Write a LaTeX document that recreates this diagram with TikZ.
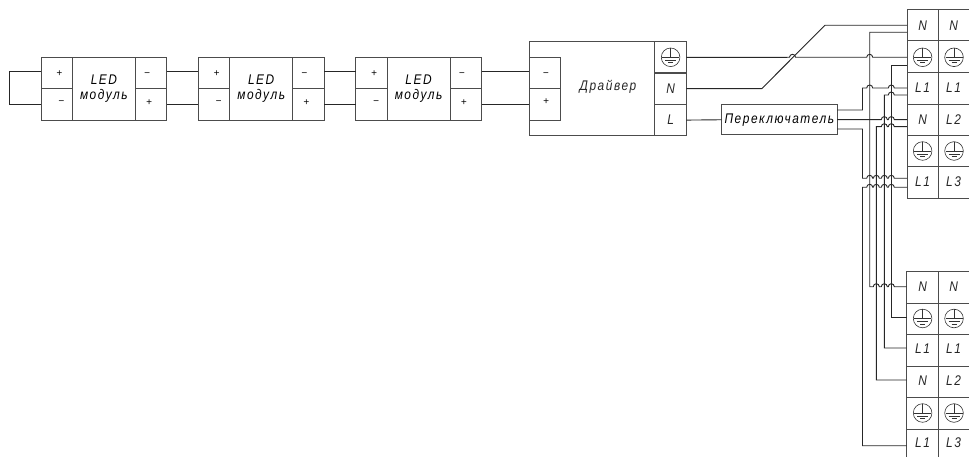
\documentclass[tikz,border=0pt]{standalone}
\usepackage{fontspec}
\usetikzlibrary{calc}
\setmainfont{Liberation Sans}
\newfontfamily\cadfont[LetterSpace=11,FakeStretch=0.85]{Liberation Sans}
\newcommand{\hop}[2]{-- ({#1-3},#2) arc[start angle=180,end angle=360,radius=3]}
\newcommand{\gnd}[2]{%
  \draw[sym] (#1,#2) circle[x radius=9.3,y radius=9.3];
  \draw[sym] (#1,#2-9.3) -- (#1,#2);
  \draw[sym] ({#1-8.5},#2) -- ({#1+8.5},#2);
  \draw[sym] ({#1-5.5},#2+3) -- ({#1+5.5},#2+3);
  \draw[sym] ({#1-2.5},#2+5.5) -- ({#1+2.5},#2+5.5);}
\tikzset{
  every node/.style={outer sep=0pt},
  wire/.style={line width=0.9pt,draw=black!85},
  frame/.style={line width=1pt,draw=black!70},
  sym/.style={line width=0.6pt,draw=black!80},
  cell/.style={draw=black!70,line width=1pt,minimum width=31.4pt,minimum height=31.4pt,inner sep=0pt},
  mid/.style={draw=black!70,line width=1pt,inner sep=0pt,align=center,font=\cadfont\itshape\fontsize{14}{15}\selectfont},
  sign/.style={inner sep=0pt,font=\itshape\fontsize{10}{10}\selectfont},
  lab/.style={inner sep=0pt,text=black!85,font=\cadfont\itshape\fontsize{14}{15}\selectfont},
}
\begin{document}
\begin{tikzpicture}[x=1pt,y=-1pt]
\useasboundingbox (0,0) rectangle (969,457);
\coordinate (wt) at (9.5,71.3);
\coordinate (wb) at (9.5,104);
% LED modules
\foreach \n/\x in {a/41,b/198.3,c/355.7}{
  \node[mid,minimum width=63pt,minimum height=62.8pt,anchor=north west] (\n m) at (\x+31.4,57.3) {LED\\модуль};
  \node[cell,anchor=north east] (\n tl) at (\n m.north west) {};
  \node[cell,anchor=south east] (\n bl) at (\n m.south west) {};
  \node[cell,anchor=north west] (\n tr) at (\n m.north east) {};
  \node[cell,anchor=south west] (\n br) at (\n m.south east) {};
  \node[sign] at ($(\n tl.center)+(2.6,0.3)$) {+};
  \node[sign] at ($(\n bl.center)+(4.6,-1.7)$) {−};
  \node[sign] at ($(\n tr.center)+(-4,1.3)$) {−};
  \node[sign] at ($(\n br.center)+(-2,-1.7)$) {+};
}
% Driver
\node[frame,draw,minimum width=157pt,minimum height=94.3pt,anchor=north west] (drv) at (529.3,41.7) {};
\node[lab] at (608,87) {Драйвер};
\node[cell,anchor=north west] (dm) at (529.3,57.3) {};
\node[cell,anchor=north west] (dp) at (529.3,88.7) {};
\node[sign] at ($(dm.center)+(0.7,1.3)$) {−};
\node[sign] at ($(dp.center)+(1,-2.4)$) {+};
\node[cell,anchor=north east] (dg) at (686.3,41.7) {};
\node[cell,anchor=north east] (dn) at (686.3,73) {};
\node[cell,anchor=north east] (dl) at (686.3,104.4) {};
\node[lab] at (dn) {N};
\node[lab] at (dl) {L};
\gnd{670.6}{57.3}
% Switch
\node[frame,draw,minimum width=115.3pt,minimum height=30.5pt,inner sep=0pt,anchor=north west,font=\cadfont\itshape\fontsize{14}{15}\selectfont] (sw) at (721.7,104.5) {Переключатель};
% Terminal blocks
\draw[frame] (969,9.6) -- (907,9.6) -- (907,198.3) -- (969,198.3);
\draw[frame] (938.3,9.6) -- (938.3,198.3);
\foreach \y in {41,72.7,104.3,135.7,166.7}{\draw[frame] (907,\y) -- (969,\y);}
\draw[frame] (969,271.7) -- (906.7,271.7) -- (906.7,457);
\draw[frame] (938.3,271.7) -- (938.3,457);
\foreach \y in {303,334.7,366,397.3,429.3}{\draw[frame] (906.7,\y) -- (969,\y);}
\foreach \name/\y/\a/\b in {ta/25.5/N/N,tc/88/L1/L1,td/120/N/L2,tf/182/L1/L3,ba/287/N/N,bc/349/L1/L1,bd/381/N/L2,bf/443/L1/L3}{
  \node[lab] (\name1) at (922.6,\y) {\a};
  \node[lab] (\name2) at (953.6,\y) {\b};
}
\foreach \y in {57.3,151,318.5,413}{\gnd{922.6}{\y}\gnd{954}{\y}}
% Connectors between modules
\draw[wire] (atl.west |- wt) -- (wt) -- (wb) -- (abl.west |- wb);
\draw[wire] (atr.east |- wt) -- (btl.west |- wt);
\draw[wire] (abr.east |- wb) -- (bbl.west |- wb);
\draw[wire] (btr.east |- wt) -- (ctl.west |- wt);
\draw[wire] (bbr.east |- wb) -- (cbl.west |- wb);
\draw[wire] (ctr.east |- wt) -- (dm.west |- wt);
\draw[wire] (cbr.east |- wb) -- (dp.west |- wb);
% Driver to terminals
\draw[wire] (dn.east) -- (761.7,88.7) -- (825,25.3) -- (907,25.3);
\draw[wire] (dg.east) \hop{792.5}{57.3} \hop{869.7}{57.3} -- (907,57.3);
\draw[wire] (dl.east) -- (sw.west);
% Terminal crossings
\draw[wire] (907,32.3) -| (869.7,286.7) \hop{876.3}{286.7} \hop{884.3}{286.7} \hop{891.3}{286.7} -- (906.7,286.7);
\draw[wire] (907,65.3) -| (891.3,317.5) -- (906.7,317.5);
\draw[wire] (837,110) -| (862.5,88) \hop{869.7}{88} \hop{891.3}{88} -- (907,88);
\draw[wire] (906.7,348) -| (884.3,95) \hop{891.3}{95} -- (907,95);
\draw[wire] (837,119.6) \hop{884.3}{119.6} \hop{891.3}{119.6} -- (907,119.6);
\draw[wire] (906.7,380) -| (876.3,126.7) \hop{884.3}{126.7} \hop{891.3}{126.7} -- (907,126.7);
\draw[wire] (837,129) -| (862.5,178.3) \hop{869.7}{178.3} \hop{876.3}{178.3} \hop{884.3}{178.3} \hop{891.3}{178.3} -- (907,178.3);
\draw[wire] (906.7,445.7) -| (862.5,187.3) \hop{869.7}{187.3} \hop{876.3}{187.3} \hop{884.3}{187.3} \hop{891.3}{187.3} -- (907,187.3);
\end{tikzpicture}
\end{document}
